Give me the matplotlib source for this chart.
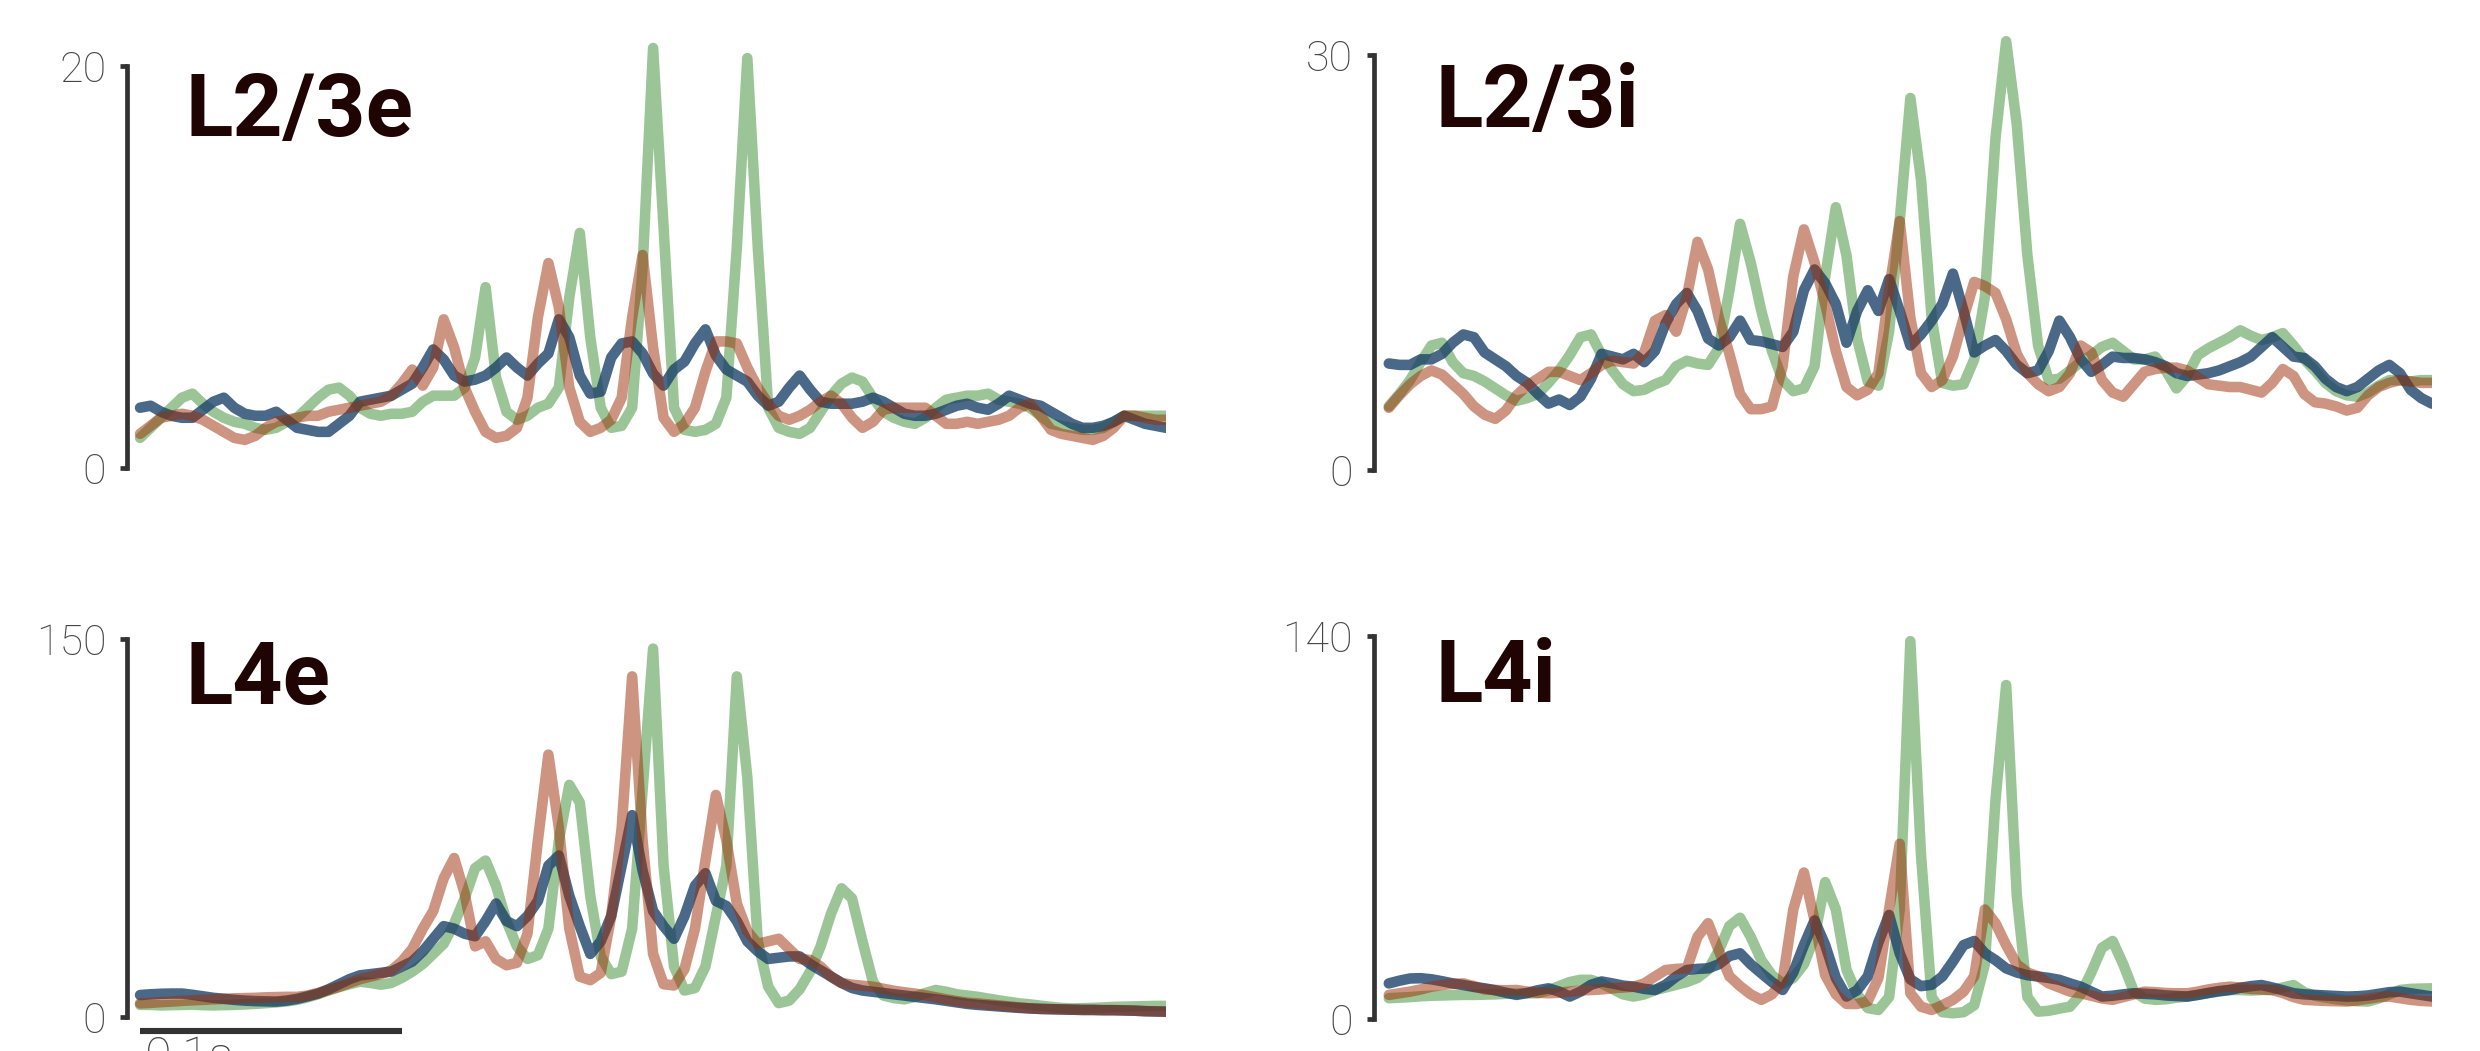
import numpy as np
import matplotlib
matplotlib.use("Agg")
import matplotlib.pyplot as plt

plt.rcParams['font.family'] = ['Roboto', 'DejaVu Sans']

# time axis, one sample every 4 ms
t = np.arange(99) * 0.004

titles = ['L2/3e', 'L2/3i', 'L4e', 'L4i']
ymax_ticks = [20, 30, 150, 140]

# L2/3e
l23e_green = [1.5, 2.0, 2.5, 3.0, 3.5, 3.7, 3.2, 2.8, 2.5, 2.3,
              2.2, 2.0, 1.9, 2.0, 2.3, 2.5, 3.0, 3.5, 3.9, 4.0,
              3.6, 3.0, 2.7, 2.6, 2.7, 2.7, 2.8, 3.3, 3.6, 3.6,
              3.6, 4.0, 5.5, 9.0, 4.5, 2.8, 2.4, 2.6, 3.0, 3.2,
              4.0, 8.5, 11.7, 6.5, 3.0, 2.0, 2.1, 3.0, 10.0, 20.9,
              12.0, 3.0, 1.9, 1.8, 1.9, 2.2, 3.5, 11.0, 20.4, 11.0,
              3.0, 2.0, 1.8, 1.7, 2.0, 2.8, 3.6, 4.2, 4.5, 4.3,
              3.5, 2.8, 2.5, 2.3, 2.2, 2.5, 3.0, 3.4, 3.5, 3.6,
              3.6, 3.7, 3.4, 3.3, 3.2, 3.0, 2.6, 2.2, 2.1, 2.0,
              1.9, 1.9, 2.0, 2.3, 2.6, 2.6, 2.6, 2.6, 2.6]
l23e_red = [1.7, 2.1, 2.5, 2.6, 2.7, 2.6, 2.4, 2.1, 1.8, 1.5,
            1.4, 1.6, 2.0, 2.3, 2.4, 2.5, 2.6, 2.6, 2.8, 2.9,
            3.0, 3.1, 3.2, 3.3, 3.6, 4.2, 4.9, 4.1, 5.0, 7.4,
            6.0, 4.0, 2.8, 1.8, 1.5, 1.6, 2.0, 3.5, 7.5, 10.2,
            8.0, 4.0, 2.3, 1.8, 2.0, 2.4, 3.5, 7.5, 10.6, 6.0,
            2.5, 1.8, 2.2, 3.0, 4.8, 6.3, 6.3, 6.2, 5.0, 4.0,
            3.2, 2.6, 2.4, 2.6, 2.9, 3.3, 3.6, 3.2, 2.5, 2.0,
            2.3, 2.9, 3.0, 3.0, 3.0, 3.0, 2.6, 2.2, 2.2, 2.3,
            2.2, 2.3, 2.4, 2.6, 3.0, 3.2, 2.6, 1.9, 1.7, 1.6,
            1.5, 1.4, 1.6, 2.0, 2.6, 2.6, 2.5, 2.4, 2.4]
l23e_blue = [3.0, 3.1, 2.8, 2.6, 2.5, 2.5, 2.9, 3.3, 3.5, 3.0,
             2.7, 2.6, 2.6, 2.8, 2.4, 2.0, 1.9, 1.8, 1.8, 2.2,
             2.6, 3.3, 3.4, 3.5, 3.6, 3.9, 4.2, 5.0, 5.9, 5.4,
             4.6, 4.3, 4.4, 4.6, 5.0, 5.5, 5.0, 4.6, 5.2, 5.7,
             7.4, 6.5, 4.6, 3.7, 3.8, 5.5, 6.2, 6.3, 5.7, 4.7,
             4.1, 4.9, 5.3, 6.2, 6.9, 5.6, 4.9, 4.6, 4.3, 3.6,
             3.1, 3.3, 4.0, 4.6, 3.9, 3.3, 3.2, 3.2, 3.2, 3.3,
             3.5, 3.3, 3.0, 2.7, 2.6, 2.6, 2.7, 2.9, 3.1, 3.2,
             3.0, 2.9, 3.2, 3.6, 3.4, 3.2, 3.1, 2.8, 2.5, 2.2,
             2.0, 2.0, 2.1, 2.3, 2.6, 2.4, 2.2, 2.1, 2.0]

# L2/3i
l23i_green = [4.6, 5.5, 6.5, 7.8, 9.0, 9.2, 7.8, 7.0, 6.8, 6.4,
              5.9, 5.4, 5.0, 5.2, 5.5, 6.3, 7.2, 8.3, 9.6, 9.8,
              8.3, 7.2, 6.2, 5.7, 5.8, 6.2, 6.5, 7.5, 7.9, 7.7,
              7.6, 8.8, 13.0, 17.8, 15.0, 11.5, 8.6, 6.5, 5.7, 5.9,
              7.5, 14.0, 19.0, 15.5, 9.5, 6.4, 6.1, 10.0, 18.0, 26.9,
              21.0, 11.0, 6.3, 6.1, 6.2, 8.0, 12.5, 24.0, 31.0, 25.0,
              15.5, 9.0, 6.5, 6.6, 7.2, 7.8, 8.3, 8.9, 9.2, 8.6,
              8.0, 8.0, 8.2, 7.2, 5.9, 6.8, 8.3, 8.8, 9.2, 9.6,
              10.1, 9.7, 9.4, 9.6, 9.9, 9.0, 8.0, 7.2, 6.3, 5.7,
              5.4, 5.3, 5.6, 6.1, 6.5, 6.5, 6.4, 6.5, 6.5]
l23i_red = [4.5, 5.4, 6.2, 6.8, 7.2, 6.9, 6.2, 5.5, 4.6, 4.0,
            3.7, 4.3, 5.4, 6.1, 6.6, 7.1, 7.1, 6.8, 6.5, 7.0,
            7.6, 7.9, 7.8, 7.7, 8.5, 10.8, 11.2, 10.0, 12.5, 16.5,
            14.5, 11.0, 8.4, 5.5, 4.4, 4.4, 4.6, 7.5, 14.0, 17.4,
            15.0, 12.0, 8.6, 6.0, 5.4, 5.8, 7.0, 13.0, 18.0, 11.0,
            7.0, 6.0, 6.5, 8.2, 11.0, 13.6, 13.3, 12.8, 10.9, 8.4,
            7.0, 6.2, 5.7, 6.0, 7.0, 9.0, 8.5, 6.5, 5.6, 5.3,
            6.2, 7.1, 7.3, 7.4, 7.4, 7.2, 6.7, 6.2, 6.1, 6.0,
            6.0, 5.8, 5.6, 6.3, 7.3, 6.8, 5.5, 4.9, 4.8, 4.6,
            4.3, 4.5, 5.4, 6.0, 6.3, 6.5, 6.4, 6.3, 6.3]
l23i_blue = [7.7, 7.6, 7.6, 8.0, 8.0, 8.4, 9.2, 9.8, 9.6, 8.5,
             8.0, 7.5, 6.8, 6.3, 5.5, 4.8, 5.1, 4.7, 5.3, 6.6,
             8.4, 8.2, 8.0, 8.4, 7.8, 8.6, 10.6, 12.0, 12.8, 11.5,
             9.5, 9.0, 9.6, 10.8, 9.4, 9.3, 9.1, 8.9, 10.0, 13.0,
             14.5, 13.5, 12.0, 9.2, 11.5, 13.0, 11.5, 13.8, 11.5, 9.0,
             9.8, 10.8, 12.0, 14.2, 11.5, 8.5, 9.0, 9.4, 8.6, 7.6,
             7.0, 7.2, 8.6, 10.8, 9.6, 8.0, 7.1, 7.6, 8.2, 8.1,
             8.1, 8.0, 7.8, 7.5, 7.0, 6.8, 6.9, 7.0, 7.2, 7.5,
             7.8, 8.2, 8.9, 9.6, 8.9, 8.2, 8.1, 7.5, 6.6, 6.0,
             5.7, 6.0, 6.6, 7.2, 7.6, 7.0, 5.8, 5.2, 4.8]

# L4e
l4e_green = [4.8, 4.8, 4.6, 4.7, 4.8, 4.9, 4.7, 4.6, 4.7, 4.8,
             5.0, 5.2, 5.5, 5.8, 6.2, 6.8, 7.8, 9.0, 10.5, 11.8,
             13.0, 14.0, 13.5, 12.8, 13.5, 15.5, 18.0, 21.0, 25.0, 29.0,
             37.0, 47.0, 59.0, 62.0, 52.0, 38.0, 28.0, 23.0, 24.5, 35.0,
             70.0, 92.0, 85.0, 48.0, 24.0, 17.0, 18.0, 35.0, 90.0, 146.0,
             60.0, 20.0, 10.5, 11.5, 20.0, 40.0, 60.0, 135.0, 95.0, 30.0,
             12.0, 5.5, 6.5, 11.0, 18.0, 28.0, 41.0, 51.0, 47.0, 30.0,
             14.0, 8.5, 7.5, 7.0, 8.0, 9.5, 10.7, 10.0, 9.0, 8.5,
             8.0, 7.3, 6.6, 6.0, 5.4, 5.0, 4.5, 4.0, 3.6, 3.4,
             3.5, 3.6, 3.8, 4.0, 4.1, 4.2, 4.3, 4.4, 4.4]
l4e_red = [5.4, 5.6, 5.9, 6.1, 6.4, 6.6, 6.8, 7.0, 7.2, 7.4,
           7.5, 7.6, 7.8, 7.9, 8.0, 8.0, 8.5, 9.5, 10.7, 12.0,
           13.5, 15.0, 16.0, 17.0, 18.5, 22.0, 27.0, 35.0, 42.0, 55.0,
           63.0, 49.0, 28.0, 30.0, 23.0, 20.5, 21.5, 33.0, 70.0, 104.0,
           75.0, 35.0, 16.0, 14.6, 17.5, 40.0, 75.0, 135.0, 70.0, 25.0,
           13.0, 12.5, 19.0, 35.0, 62.0, 88.0, 70.0, 45.0, 34.0, 29.0,
           30.0, 31.0, 27.0, 23.0, 22.6, 20.0, 16.0, 13.5, 12.8, 12.4,
           12.0, 11.2, 10.4, 9.8, 9.3, 8.6, 7.8, 7.0, 6.3, 5.7,
           5.4, 5.0, 4.6, 4.2, 3.8, 3.4, 3.2, 3.1, 3.0, 2.9,
           2.8, 2.8, 2.7, 2.7, 2.6, 2.5, 2.3, 2.2, 2.1]
l4e_blue = [8.7, 9.0, 9.2, 9.3, 9.3, 8.8, 8.2, 7.6, 7.2, 6.8,
            6.5, 6.3, 6.2, 6.1, 6.5, 7.2, 8.2, 9.3, 11.0, 13.0,
            15.0, 16.5, 17.0, 17.5, 18.0, 20.0, 22.0, 26.0, 31.0, 36.0,
            35.0, 33.0, 32.0, 38.0, 45.0, 38.0, 36.0, 40.0, 46.0, 60.0,
            64.0, 48.0, 36.0, 25.0, 30.0, 40.0, 60.0, 80.0, 58.0, 42.0,
            36.0, 31.0, 40.0, 52.0, 57.0, 46.0, 44.0, 38.0, 30.0, 26.0,
            23.0, 23.5, 24.0, 24.0, 21.0, 18.5, 16.0, 13.5, 11.5, 10.5,
            10.0, 9.5, 9.0, 8.5, 8.0, 7.5, 7.0, 6.4, 5.8, 5.2,
            4.8, 4.5, 4.2, 3.9, 3.6, 3.4, 3.2, 3.1, 3.0, 2.9,
            2.8, 2.8, 2.7, 2.7, 2.6, 2.5, 2.3, 2.2, 2.1]

# L4i
l4i_green = [7.6, 7.8, 8.0, 8.3, 8.5, 8.6, 8.7, 8.8, 8.8, 8.9,
             9.0, 9.2, 9.3, 9.4, 9.4, 10.5, 12.0, 13.5, 14.3, 14.3,
             13.0, 11.0, 9.0, 8.2, 9.0, 10.5, 11.5, 12.5, 13.5, 15.0,
             18.0, 25.0, 34.0, 37.0, 30.0, 21.5, 16.0, 13.0, 15.0, 20.0,
             30.0, 50.0, 40.0, 18.0, 9.0, 4.0, 3.3, 8.0, 40.0, 138.0,
             60.0, 8.0, 2.5, 2.1, 2.5, 5.0, 20.0, 80.0, 122.0, 45.0,
             8.0, 2.7, 3.0, 3.8, 4.5, 9.0, 17.0, 26.0, 28.5, 20.0,
             10.0, 7.5, 7.0, 7.2, 7.8, 8.2, 8.8, 9.5, 10.0, 10.6,
             10.6, 10.4, 10.6, 10.6, 11.5, 12.4, 9.8, 8.5, 7.8, 7.2,
             6.8, 6.5, 6.4, 7.5, 9.0, 10.6, 11.0, 11.1, 11.2]
l4i_red = [8.8, 9.4, 10.0, 10.8, 11.8, 12.4, 12.8, 13.0, 12.0, 10.8,
           10.6, 10.5, 10.6, 10.0, 9.6, 9.4, 9.6, 10.0, 10.4, 10.6,
           10.8, 11.2, 11.5, 11.8, 13.0, 15.5, 17.9, 18.3, 18.5, 30.0,
           35.0, 25.0, 15.6, 12.0, 9.0, 7.0, 9.0, 14.0, 40.0, 53.5,
           36.0, 16.0, 9.0, 5.5, 5.5, 6.5, 15.0, 40.0, 64.0, 9.4,
           4.5, 3.3, 5.0, 7.0, 10.0, 15.6, 40.0, 35.0, 27.0, 20.0,
           17.0, 15.6, 13.0, 11.5, 10.0, 9.4, 8.5, 7.5, 7.0, 8.0,
           9.0, 10.0, 9.8, 9.5, 9.4, 9.4, 10.0, 10.8, 11.4, 11.8,
           11.5, 11.0, 10.8, 10.6, 9.5, 8.0, 7.0, 6.8, 6.6, 6.5,
           6.4, 6.8, 7.4, 8.0, 8.2, 7.6, 7.0, 6.6, 6.4]
l4i_blue = [13.0, 14.0, 14.8, 14.9, 14.5, 13.8, 13.0, 12.4, 11.7, 11.2,
            10.5, 9.6, 8.8, 9.5, 10.5, 11.2, 10.0, 8.2, 10.0, 12.5,
            13.7, 13.0, 12.2, 11.8, 11.0, 10.6, 12.5, 15.5, 17.9, 18.3,
            18.5, 20.0, 23.0, 24.0, 20.0, 16.7, 13.5, 10.6, 17.0, 27.0,
            36.0, 27.0, 15.0, 8.2, 10.5, 15.6, 28.0, 38.0, 24.0, 14.5,
            12.0, 12.5, 15.5, 21.0, 27.0, 28.5, 24.0, 21.5, 18.5, 17.0,
            16.0, 15.5, 15.0, 14.3, 13.0, 11.8, 10.0, 8.2, 8.5, 9.0,
            9.4, 9.2, 9.0, 8.6, 8.4, 8.2, 8.8, 9.5, 10.2, 10.6,
            11.4, 12.0, 12.4, 11.5, 10.5, 9.4, 9.0, 8.8, 8.6, 8.4,
            8.2, 8.3, 8.6, 9.2, 9.8, 10.0, 9.4, 8.8, 8.2]

greens = [l23e_green, l23i_green, l4e_green, l4i_green]
reds = [l23e_red, l23i_red, l4e_red, l4i_red]
blues = [l23e_blue, l23i_blue, l4e_blue, l4i_blue]

GREEN = '#398d31'
BLUE = '#1d4269'
RED = '#9d2d05'
AXC = '#333333'
LW = 7.6

fig = plt.figure(figsize=(24.8, 10.51), dpi=100)

# axes rectangles in figure fractions, and x / y limits
rects = [[0.0512, 0.5547, 0.4190, 0.4206],
         [0.5540, 0.5528, 0.4266, 0.4211],
         [0.0512, 0.03235, 0.4190, 0.3721],
         [0.5540, 0.03045, 0.4266, 0.3777]]
xlefts = [-0.005, -0.0056, -0.005, -0.0056]
ytops = [22, 32, 155, 145]

axes = []
for k in range(4):
    ax = fig.add_axes(rects[k])
    axes.append(ax)
    ax.plot(t, greens[k], color=GREEN, alpha=0.5, lw=LW,
            solid_joinstyle='round', solid_capstyle='round')
    ax.plot(t, blues[k], color=BLUE, alpha=0.8, lw=LW,
            solid_joinstyle='round', solid_capstyle='round')
    ax.plot(t, reds[k], color=RED, alpha=0.5, lw=LW,
            solid_joinstyle='round', solid_capstyle='round')

    ax.set_xlim(xlefts[k], t[-1])
    ax.set_ylim(0, ytops[k])
    for s in ['top', 'right', 'bottom']:
        ax.spines[s].set_visible(False)
    ax.spines['left'].set_bounds(0, ymax_ticks[k])
    ax.spines['left'].set_linewidth(3.4)
    ax.spines['left'].set_color(AXC)
    ax.set_xticks([])
    ax.set_yticks([0, ymax_ticks[k]])
    ax.tick_params(axis='y', length=5, width=3.4, color=AXC, pad=10,
                   labelsize=31, labelcolor='#444444')
    for lbl in ax.get_yticklabels():
        lbl.set_fontweight('light')

    ax.text(0.0175, 0.826 * ymax_ticks[k], titles[k], fontsize=63,
            fontweight='bold', color='#200404', ha='left', va='baseline')

# 0.1 s scale bar under L4e
ax = axes[2]
ax.plot([0, 0.1], [-5.6, -5.6], color=AXC, lw=4.4, solid_capstyle='butt',
        clip_on=False)
ax.text(0.002, -7.0, '0.1s', fontsize=35, fontweight='light',
        color='#444444', ha='left', va='top', clip_on=False)

fig.savefig('out.png', dpi=100)
